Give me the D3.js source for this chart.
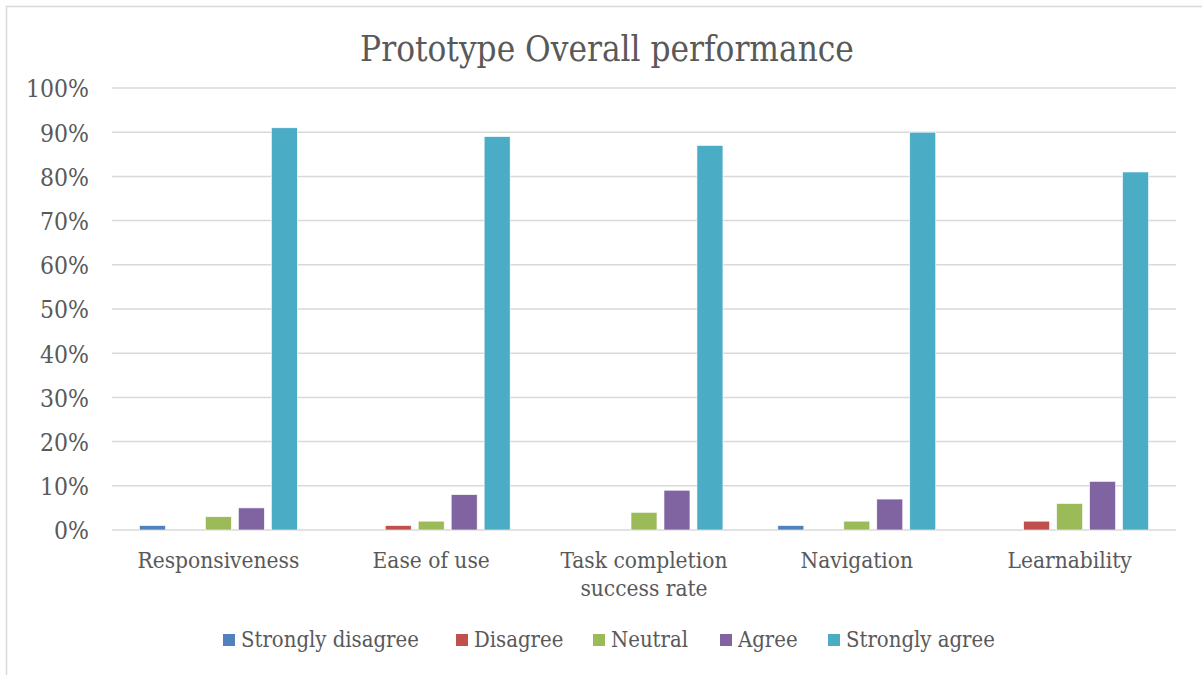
<!DOCTYPE html>
<html>
<head>
<meta charset="utf-8">
<script src="https://cdn.jsdelivr.net/npm/d3@7"></script>
<style>
  html, body { margin: 0; padding: 0; background: #fff; overflow: hidden; }
  svg { display: block; }
  text { font-family: "DejaVu Serif", "Liberation Serif", serif; font-stretch: semi-condensed; fill: #595959; }
</style>
</head>
<body>
<svg id="chart" width="1202" height="675"></svg>
<script>
const chartTitle = "Prototype Overall performance";
const categories = ["Responsiveness", "Ease of use", "Task completion success rate", "Navigation", "Learnability"];
const seriesNames = ["Strongly disagree", "Disagree", "Neutral", "Agree", "Strongly agree"];
const seriesColors = ["#4F81BD", "#C0504D", "#9BBB59", "#8064A2", "#4BACC6"];
const stronglyDisagree = [1, 0, 0, 1, 0];
const disagree = [0, 1, 0, 0, 2];
const neutral = [3, 2, 4, 2, 6];
const agree = [5, 8, 9, 7, 11];
const stronglyAgree = [91, 89, 87, 90, 81];
const yTicks = [0, 10, 20, 30, 40, 50, 60, 70, 80, 90, 100];

const seriesValues = [stronglyDisagree, disagree, neutral, agree, stronglyAgree];

const svg = d3.select("#chart");
const W = 1202, H = 675;

// outer border (right & bottom edges fall outside the picture)
svg.append("rect").attr("x", 6.5).attr("y", 6.5).attr("width", W + 20).attr("height", H + 20)
  .attr("fill", "#fff").attr("stroke", "#d9d9d9").attr("stroke-width", 1.5);

// fit font-size so that a sample string has a target width
function fitSize(sample, target, base) {
  const t = svg.append("text").attr("font-size", base).text(sample);
  const w = t.node().getComputedTextLength();
  t.remove();
  return base * target / w;
}

const plot = { left: 112, right: 1176, top: 88, bottom: 530 };

const x0 = d3.scaleBand().domain(categories).range([plot.left, plot.right]).paddingInner(0).paddingOuter(0);
const x1 = d3.scaleBand().domain(seriesNames).range([0, x0.bandwidth()]).paddingInner(0.212).paddingOuter(0.833);
const y = d3.scaleLinear().domain([0, 100]).range([plot.bottom, plot.top]);

// gridlines
svg.append("g").selectAll("line").data(yTicks).join("line")
  .attr("x1", plot.left).attr("x2", plot.right)
  .attr("y1", d => y(d)).attr("y2", d => y(d))
  .attr("stroke", "#d9d9d9").attr("stroke-width", 1.5);

// y-axis labels
const tickSize = fitSize("100%", 63, 20);
const yAxis = d3.axisLeft(y).tickValues(yTicks).tickFormat(d => d + "%").tickSize(0).tickPadding(0);
const yg = svg.append("g").attr("transform", `translate(89,0)`).call(yAxis);
yg.select(".domain").remove();
yg.selectAll("text").attr("font-size", tickSize).attr("font-family", null).attr("fill", "#595959")
  .attr("x", 0).attr("dy", "0.36em");

// bars
const groups = svg.append("g").selectAll("g").data(categories).join("g")
  .attr("transform", d => `translate(${x0(d)},0)`);
groups.selectAll("rect").data((c, i) => seriesNames.map((s, j) => ({ s, v: seriesValues[j][i], c: seriesColors[j] })))
  .join("rect")
  .attr("x", d => x1(d.s))
  .attr("width", x1.bandwidth())
  .attr("y", d => y(d.v))
  .attr("height", d => y(0) - y(d.v))
  .attr("fill", d => d.c)
  .attr("stroke", "#ffffff").attr("stroke-width", d => d.v > 0 ? 0.6 : 0);

// category labels with wrapping
const catSize = fitSize("Responsiveness", 162, 20);
const maxW = 185;
categories.forEach(c => {
  const words = c.split(" ");
  const lines = [];
  let cur = "";
  const probe = svg.append("text").attr("font-size", catSize);
  words.forEach(w => {
    const trial = cur ? cur + " " + w : w;
    probe.text(trial);
    if (probe.node().getComputedTextLength() > maxW && cur) { lines.push(cur); cur = w; }
    else cur = trial;
  });
  lines.push(cur);
  probe.remove();
  const t = svg.append("text").attr("font-size", catSize).attr("text-anchor", "middle")
    .attr("x", x0(c) + x0.bandwidth() / 2).attr("y", 568);
  lines.forEach((l, k) => t.append("tspan").attr("x", x0(c) + x0.bandwidth() / 2).attr("dy", k === 0 ? 0 : 27.5).text(l));
});

// title
const titleSize = fitSize(chartTitle, 494, 30);
svg.append("text").attr("x", 607).attr("y", 61).attr("text-anchor", "middle")
  .attr("font-size", titleSize).text(chartTitle);

// legend
const legSize = fitSize("Strongly disagree", 178, 20);
const legStarts = [223, 456, 593, 720, 828];
const leg = svg.append("g");
seriesNames.forEach((s, i) => {
  leg.append("rect").attr("x", legStarts[i]).attr("y", 634).attr("width", 12).attr("height", 12).attr("fill", seriesColors[i]);
  leg.append("text").attr("x", legStarts[i] + 18).attr("y", 647).attr("font-size", legSize).text(s);
});
</script>
</body>
</html>
